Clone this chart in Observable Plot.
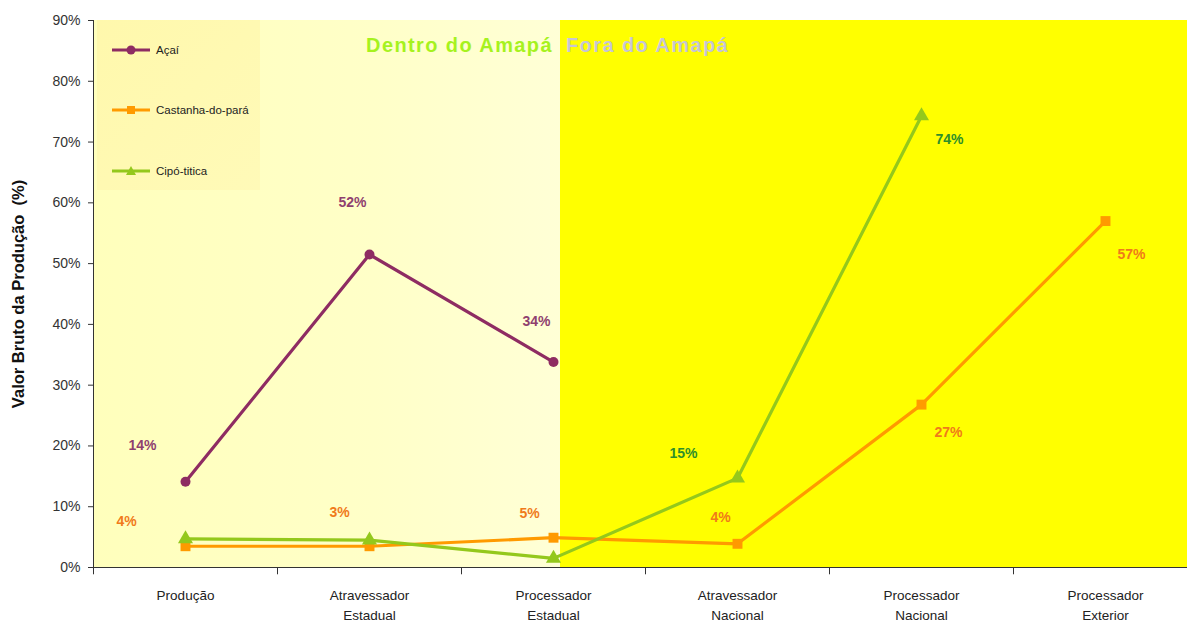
<!DOCTYPE html>
<html>
<head>
<meta charset="utf-8">
<script src="https://cdn.jsdelivr.net/npm/d3@7"></script>
<script src="https://cdn.jsdelivr.net/npm/@observablehq/plot@0.6"></script>
<style>
  html, body { margin: 0; padding: 0; background: #ffffff; }
  #chart { width: 1187px; height: 624px; overflow: hidden; }
</style>
</head>
<body>
<div id="chart"></div>
<script>
// ---- data ----
const categories = [
  "Produção",
  "Atravessador\nEstadual",
  "Processador\nEstadual",
  "Atravessador\nNacional",
  "Processador\nNacional",
  "Processador\nExterior"
];
const seriesNames = ["Açaí", "Castanha-do-pará", "Cipó-titica"];
const acai     = [14.1, 51.5, 33.8, null, null, null];
const castanha = [3.5, 3.5, 4.9, 3.9, 26.8, 57.0];
const cipo     = [4.7, 4.5, 1.5, 14.7, 74.3, null];
const acaiLabels     = ["14%", "52%", "34%", null, null, null];
const castanhaLabels = ["4%", "3%", "5%", "4%", "27%", "57%"];
const cipoLabels     = [null, null, null, "15%", "74%", null];
const yTicks = [0, 10, 20, 30, 40, 50, 60, 70, 80, 90];
const regionTitles = ["Dentro do Amapá", "Fora do Amapá"];
const yTitle = "Valor Bruto da Produção  (%)";

// ---- styles / layout ----
const colors = {"Açaí": "#8e2c62", "Castanha-do-pará": "#ff9a00", "Cipó-titica": "#94c81c"};
const labelColors = {"Açaí": "#8f3f6f", "Castanha-do-pará": "#f07a1a", "Cipó-titica": "#2f8f2a"};
const symbols = {"Açaí": "circle", "Castanha-do-pará": "square", "Cipó-titica": "triangle"};
const radii = {"Açaí": 5, "Castanha-do-pará": 5.6, "Cipó-titica": 5.6};
// label offsets in pixels (dx, dy) relative to each point
const acaiOffsets     = [[-43, -36], [-17, -52], [-17, -41], null, null, null];
const castanhaOffsets = [[-59, -25], [-30, -34], [-24, -24], [-17, -26], [27, 28], [26, 33]];
const cipoOffsets     = [null, null, null, [-54, -25], [28, 24], null];

const rows = [];
const labelRows = [];
function addSeries(name, vals, labs, offs) {
  vals.forEach((v, i) => {
    if (v == null) return;
    rows.push({series: name, cat: categories[i], value: v});
    if (labs[i]) labelRows.push({series: name, cat: categories[i], value: v, text: labs[i], dx: offs[i][0], dy: offs[i][1]});
  });
}
addSeries("Açaí", acai, acaiLabels, acaiOffsets);
addSeries("Castanha-do-pará", castanha, castanhaLabels, castanhaOffsets);
addSeries("Cipó-titica", cipo, cipoLabels, cipoOffsets);

const W = 1187, H = 624;
const mL = 93, mT = 20, mB = 57;
const xRange = [93, 1197];
const narrow = "Liberation Sans Narrow, Arial Narrow, Liberation Sans, Arial, sans-serif";
const sans = "Liberation Sans, Arial, sans-serif";

const ns = "http://www.w3.org/2000/svg";
function el(tag, attrs, text) {
  const e = document.createElementNS(ns, tag);
  for (const k in attrs) e.setAttribute(k, attrs[k]);
  if (text != null) e.textContent = text;
  return e;
}

// background regions (drawn using the x scale)
function backgrounds(index, scales) {
  const g = el("g", {});
  const bw = scales.x.bandwidth ? scales.x.bandwidth() : 184;
  const split = scales.x(categories[2]) + bw / 2 + 7;
  const top = scales.y(90), bottom = scales.y(0);
  const defs = el("defs", {});
  defs.innerHTML = `
    <linearGradient id="lg" x1="0" x2="1" y1="0" y2="0">
      <stop offset="0" stop-color="#ffffbc"/>
      <stop offset="0.6" stop-color="#ffffc8"/>
      <stop offset="1" stop-color="#ffffd6"/>
    </linearGradient>
    <linearGradient id="lgb" x1="0" x2="1" y1="0" y2="1">
      <stop offset="0" stop-color="#fff8ac"/>
      <stop offset="1" stop-color="#fffab8"/>
    </linearGradient>`;
  g.appendChild(defs);
  g.appendChild(el("rect", {x: mL, y: top, width: split - mL, height: bottom - top, fill: "url(#lg)"}));
  g.appendChild(el("rect", {x: split, y: top, width: W - split + 20, height: bottom - top, fill: "#ffff00"}));
  g.appendChild(el("rect", {x: 97, y: top, width: 163, height: 170, fill: "url(#lgb)"}));
  g.appendChild(el("text", {x: split - 7, y: top + 32, "text-anchor": "end", "font-family": sans,
    "font-weight": "bold", "font-size": 20, "letter-spacing": 1.4, fill: "#a6f21e"}, regionTitles[0]));
  g.appendChild(el("text", {x: split + 6, y: top + 32, "text-anchor": "start", "font-family": sans,
    "font-weight": "bold", "font-size": 20, "letter-spacing": 1.4, fill: "#c6c6d4"}, regionTitles[1]));
  return g;
}

// y axis line + legend drawn inside the plot
function legend(index, scales) {
  const g = el("g", {});
  g.appendChild(el("line", {x1: mL + 0.5, x2: mL + 0.5, y1: scales.y(90), y2: scales.y(0), stroke: "#333"}));
  const ys = [50, 110, 171];
  seriesNames.forEach((s, i) => {
    const y = ys[i];
    g.appendChild(el("line", {x1: 112, x2: 150, y1: y, y2: y, stroke: colors[s], "stroke-width": 3}));
    let m;
    if (symbols[s] === "circle") m = el("circle", {cx: 131, cy: y, r: 4.5});
    else if (symbols[s] === "square") m = el("rect", {x: 127, y: y - 4, width: 8, height: 8});
    else m = el("path", {d: `M131,${y - 5}L136,${y + 4}L126,${y + 4}Z`});
    m.setAttribute("fill", colors[s]);
    g.appendChild(m);
    g.appendChild(el("text", {x: 156, y: y + 4, "text-anchor": "start", "font-family": narrow,
      "font-size": 11.5, fill: "#222"}, s));
  });
  return g;
}

const chart = Plot.plot({
  width: W,
  height: H,
  marginLeft: mL,
  marginTop: mT,
  marginBottom: mB,
  marginRight: 0,
  style: {background: "transparent", overflow: "visible"},
  x: {type: "band", domain: categories, range: xRange, padding: 0, label: null, axis: null},
  y: {domain: [0, 90], range: [H - mB, mT], label: null, axis: null},
  marks: [
    backgrounds,
    // y axis
    Plot.axisY({ticks: yTicks, tickFormat: d => d + "%", tickSize: 5, tickPadding: 8,
      fontSize: 14, fill: "#333", stroke: "#333", strokeWidth: 1,
      fontFamily: sans, label: null}),
    Plot.ruleY([0], {stroke: "#333"}),
    // x axis ticks at band boundaries (short, below the axis)
    Plot.ruleX(categories, {x: d => d, y1: 0, y2: -1.2, dx: -92, stroke: "#333", clip: false}),
    Plot.text(categories, {x: d => d, frameAnchor: "bottom", dy: 19, lineAnchor: "top", text: d => d,
      fontSize: 13.5, fill: "#222", lineHeight: 1.45, fontFamily: narrow}),
    // lines
    Plot.line(rows, {x: "cat", y: "value", z: "series", stroke: d => colors[d.series], strokeWidth: 3.2}),
    ...seriesNames.map(s => Plot.dot(rows.filter(d => d.series === s), {x: "cat", y: "value",
      symbol: symbols[s], fill: colors[s], r: radii[s], stroke: "none"})),
    // labels
    ...labelRows.map(d => Plot.text([d], {x: "cat", y: "value", text: "text", dx: d.dx, dy: d.dy,
      fill: labelColors[d.series], fontWeight: "bold", fontSize: 14, fontFamily: narrow})),
    legend,
    // y title
    Plot.text([yTitle], {frameAnchor: "left", textAnchor: "middle", dx: -75, rotate: -90, text: d => d,
      fontWeight: "bold", fontSize: 16.5, fill: "#111", fontFamily: sans})
  ]
});

document.getElementById("chart").appendChild(chart);
</script>
</body>
</html>
